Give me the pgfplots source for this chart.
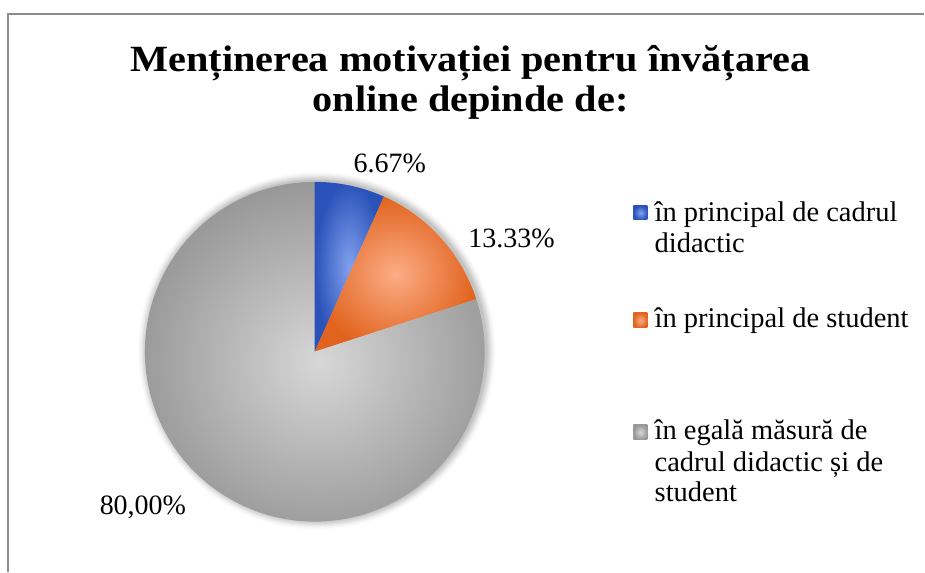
\documentclass[border=0pt]{standalone}
\usepackage{fontspec}
\setmainfont{Liberation Serif}
\usepackage{pgfplots}
\pgfplotsset{compat=1.18}
\usepackage{pgfplotstable}

\definecolor{blueL}{RGB}{130,160,238}
\definecolor{blueD}{RGB}{42,82,185}
\definecolor{orangeL}{RGB}{252,172,135}
\definecolor{orangeD}{RGB}{225,100,30}
\definecolor{grayL}{RGB}{215,215,215}
\definecolor{grayD}{RGB}{152,152,152}
\definecolor{framegray}{RGB}{140,140,140}

\pgfplotstableread{
share
6.67
13.33
80.00
}\piedata

\pgfplotstablegetelem{0}{share}\of\piedata \xdef\sA{\pgfplotsretval}
\pgfplotstablegetelem{1}{share}\of\piedata \xdef\sB{\pgfplotsretval}
\pgfplotstablegetelem{2}{share}\of\piedata \xdef\sC{\pgfplotsretval}
\pgfmathsetmacro{\angA}{90}
\pgfmathsetmacro{\angB}{\angA-3.6*\sA}
\pgfmathsetmacro{\angC}{\angB-3.6*\sB}
\pgfmathsetmacro{\angD}{\angC-3.6*\sC}

\begin{document}
\begin{tikzpicture}
\begin{axis}[width=925pt,height=572pt,scale only axis,
  xmin=0,xmax=925,ymin=0,ymax=572,hide axis,clip=false]
\path (axis cs:0,0) rectangle (axis cs:925,572);
% frame
\draw[framegray,line width=1.5pt] (axis cs:8,0) -- (axis cs:8,558) -- (axis cs:925,558);
% title
\node[anchor=base,font=\fontsize{37}{40}\selectfont\bfseries] at (axis cs:471,500) {\scalebox{1.09}[1]{Menținerea motivației pentru învățarea}};
\node[anchor=base,font=\fontsize{37}{40}\selectfont\bfseries] at (axis cs:471,460) {\scalebox{1.09}[1]{online depinde de:}};
% shadow
\fill[black,opacity=0.045] (axis cs:317,221) circle[radius=171pt];
\fill[black,opacity=0.045] (axis cs:317,221) circle[radius=172pt];
\fill[black,opacity=0.04] (axis cs:317,221) circle[radius=173pt];
\fill[black,opacity=0.035] (axis cs:317,221) circle[radius=174pt];
\fill[black,opacity=0.03] (axis cs:317,221) circle[radius=175pt];
\fill[black,opacity=0.025] (axis cs:317,221) circle[radius=176pt];
\fill[black,opacity=0.02] (axis cs:317,221) circle[radius=177pt];
\fill[black,opacity=0.015] (axis cs:317,221) circle[radius=178pt];
\fill[black,opacity=0.01] (axis cs:317,221) circle[radius=179pt];
% slices
\shade[inner color=blueL,outer color=blueD] (axis cs:315,220) -- ++(\angA:170pt) arc[start angle=\angA,end angle=\angB,radius=170pt] -- cycle;
\shade[inner color=orangeL,outer color=orangeD] (axis cs:315,220) -- ++(\angB:170pt) arc[start angle=\angB,end angle=\angC,radius=170pt] -- cycle;
\shade[inner color=grayL,outer color=grayD] (axis cs:315,220) -- ++(\angC:170pt) arc[start angle=\angC,end angle=\angD,radius=170pt] -- cycle;
% data labels
\node[anchor=base,font=\fontsize{28}{31}\selectfont] at (axis cs:390,399) {6.67\%};
\node[anchor=base,font=\fontsize{28}{31}\selectfont] at (axis cs:512,324) {13.33\%};
\node[anchor=base,font=\fontsize{28}{31}\selectfont] at (axis cs:143,57) {80,00\%};
% legend
\shade[inner color=blueL,outer color=blueD] (axis cs:634,352) rectangle (axis cs:648,366);
\shade[inner color=orangeL,outer color=orangeD] (axis cs:634,244) rectangle (axis cs:648,259);
\shade[inner color=grayL,outer color=grayD] (axis cs:634,132) rectangle (axis cs:648,147);
\node[anchor=base west,inner sep=0pt,font=\fontsize{28.5}{31}\selectfont] at (axis cs:655,350) {în principal de cadrul};
\node[anchor=base west,inner sep=0pt,font=\fontsize{28.5}{31}\selectfont] at (axis cs:655,319) {didactic};
\node[anchor=base west,inner sep=0pt,font=\fontsize{28.5}{31}\selectfont] at (axis cs:655,244) {în principal de student};
\node[anchor=base west,inner sep=0pt,font=\fontsize{28.5}{31}\selectfont] at (axis cs:655,132) {în egală măsură de};
\node[anchor=base west,inner sep=0pt,font=\fontsize{28.5}{31}\selectfont] at (axis cs:655,100) {cadrul didactic și de};
\node[anchor=base west,inner sep=0pt,font=\fontsize{28.5}{31}\selectfont] at (axis cs:655,70) {student};
\end{axis}
\end{tikzpicture}
\end{document}
